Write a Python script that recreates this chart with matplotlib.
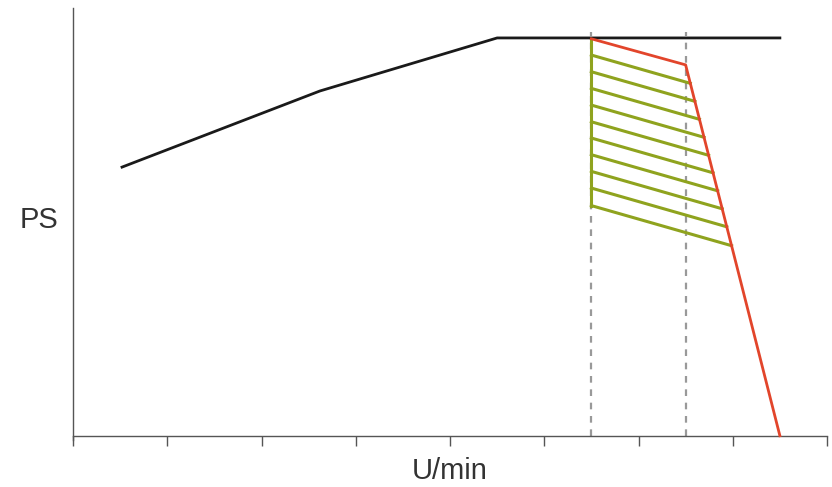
import matplotlib.pyplot as plt
import numpy as np

# power curve (black)
power_x = [0.52, 2.62, 4.5, 7.5]
power_y = [6.28, 8.06, 9.3, 9.3]

# limited curve (red)
limit_x = [5.5, 6.5, 7.5]
limit_y = [9.28, 8.67, 0.0]

# range markers (dashed)
range_x = [5.5, 6.5]
range_top = 9.45

# hatch lines in the gap (green), start heights at x = 5.5
hatch_start = [8.90, 8.51, 8.12, 7.73, 7.34, 6.96, 6.57, 6.18, 5.79, 5.38]
hatch_slope = -0.63

fig = plt.figure(figsize=(8.32, 4.87), dpi=100)
ax = fig.add_axes([73 / 832, 47 / 487, 754 / 832, 432 / 487])

ax.set_xlim(0, 8)
ax.set_ylim(-0.1, 10)

ax.vlines(range_x, 0, range_top, color='#999999', lw=1.6, ls=(0, (3, 3)), zorder=1)

# green hatch: parallel lines from x=5.5 until they meet the steep red segment
x0, x1 = limit_x[1], limit_x[2]
y0, y1 = limit_y[1], limit_y[2]
red_slope = (y1 - y0) / (x1 - x0)
green = '#8fa31e'
for ys in hatch_start:
    # solve ys + hatch_slope*(x-5.5) = y0 + red_slope*(x-x0)
    xe = (y0 - red_slope * x0 - ys + hatch_slope * range_x[0]) / (hatch_slope - red_slope)
    ye = ys + hatch_slope * (xe - range_x[0])
    ax.plot([range_x[0], xe], [ys, ye], color=green, lw=2.2, zorder=2)
ax.plot([range_x[0], range_x[0]], [hatch_start[-1], limit_y[0]], color=green, lw=2.2, zorder=2)

ax.plot(power_x, power_y, color='#1a1a1a', lw=2.0, zorder=3)
ax.plot(limit_x, limit_y, color='#e2452b', lw=2.0, zorder=4)

for s in ['top', 'right']:
    ax.spines[s].set_visible(False)
for s in ['left', 'bottom']:
    ax.spines[s].set_color('#555555')
    ax.spines[s].set_linewidth(1.0)
ax.spines['bottom'].set_position(('data', 0))

ax.set_xticks(np.arange(0, 9))
ax.set_xticklabels([])
ax.set_yticks([])
ax.tick_params(axis='x', direction='out', length=7, width=1.0, color='#555555')

font = ['Liberation Sans', 'DejaVu Sans']
ax.text(0.5, -31 / 432 - 0.1 * 42.77 / 432 * 0, 'U/min', transform=ax.transAxes,
        fontsize=21, family=font, color='#333333', ha='center', va='center')
ax.text(-0.02, (436 - 220 + 4) / 432, 'PS', transform=ax.transAxes,
        fontsize=21, family=font, color='#333333', ha='right', va='center')

fig.savefig('out.png', dpi=100)
